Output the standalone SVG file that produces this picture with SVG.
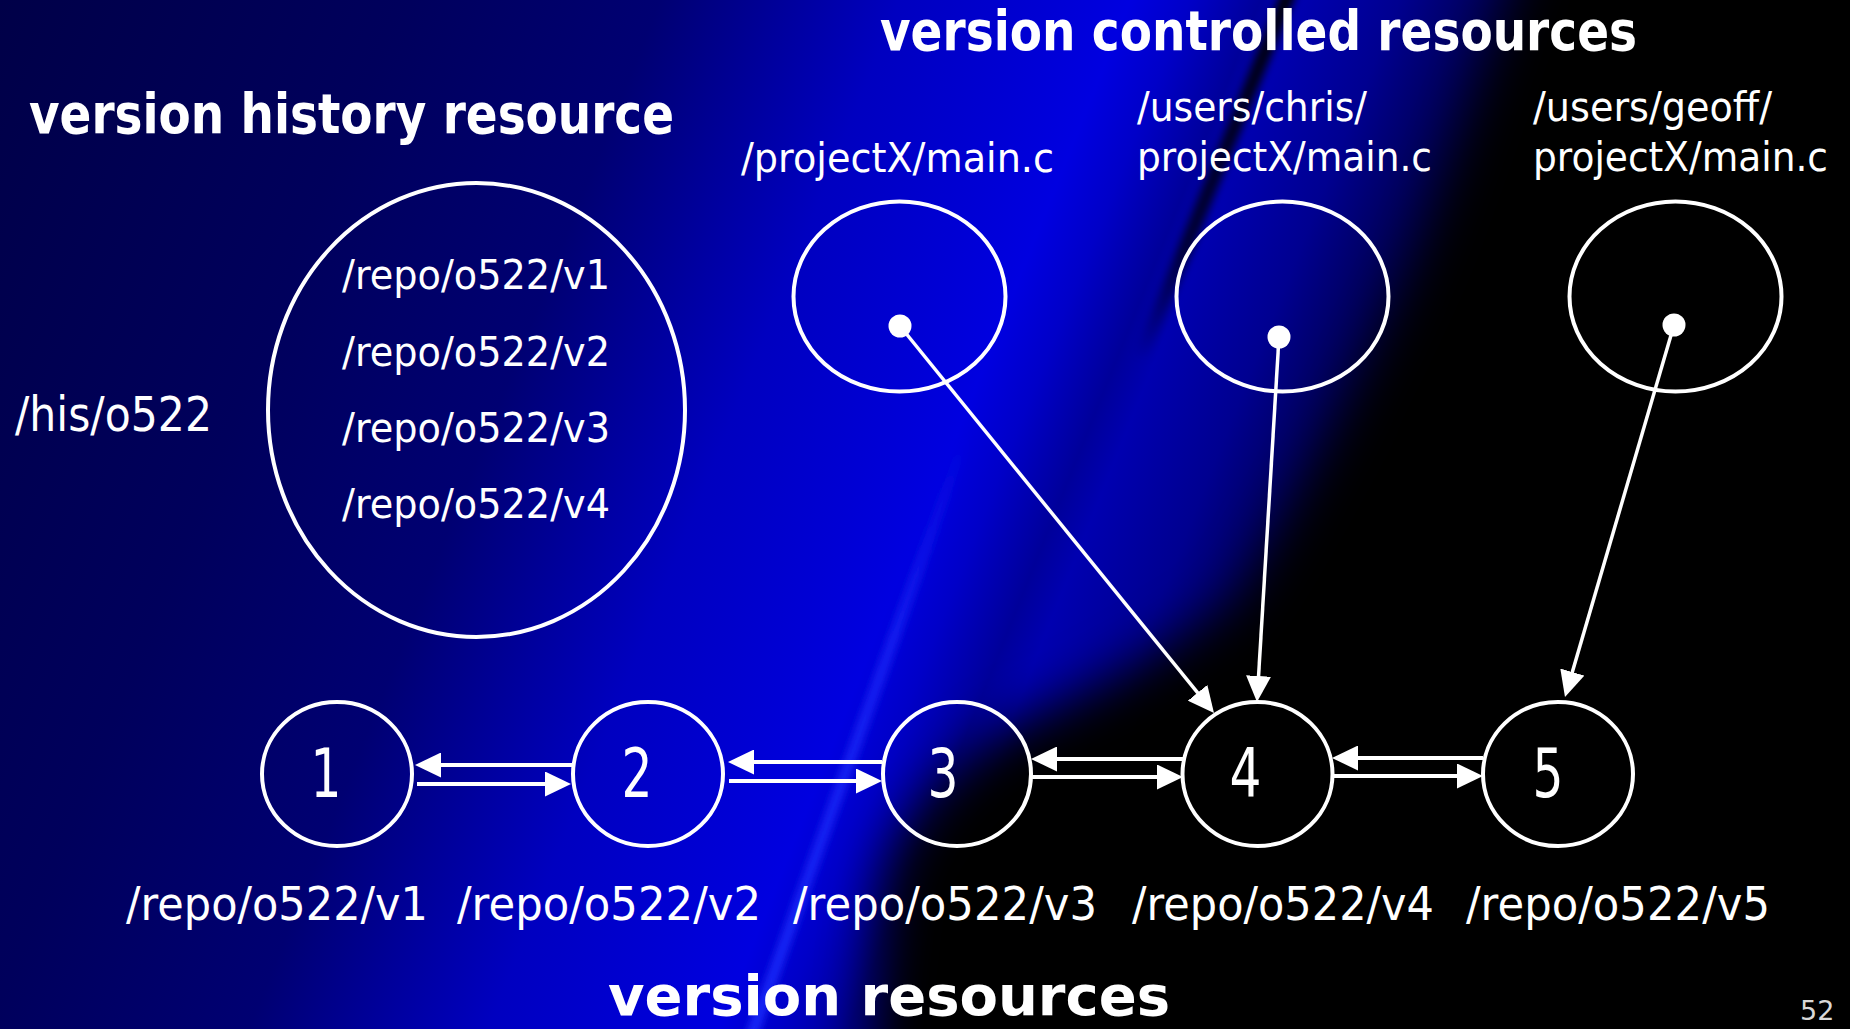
<svg xmlns="http://www.w3.org/2000/svg" width="1850" height="1029" viewBox="0 0 1850 1029">
  <defs>
    <style>
      .lbl { font-family: "DejaVu Sans", "Liberation Sans", sans-serif; fill: #ffffff; }
      .ttl { font-family: "DejaVu Sans Condensed", "DejaVu Sans", "Liberation Sans", sans-serif; font-weight: bold; fill: #ffffff; font-size: 55px; }
      .ring { fill: none; stroke: #ffffff; stroke-width: 4; }
      .num { font-size: 67px; }
      .path { font-size: 46px; }
      .small { font-size: 40px; }
      .link { stroke: #ffffff; fill: none; marker-end: url(#head); }
      .pair { stroke-width: 4; }
      .ref { stroke-width: 3.5; }
      .dot { fill: #ffffff; }
    </style>
    <!-- diagonal colour bands of the backdrop -->
    <linearGradient id="bands" gradientUnits="userSpaceOnUse" x1="0" y1="0" x2="1600" y2="640">
      <stop offset="0" stop-color="#000048"/>
      <stop offset="0.2155" stop-color="#00005c"/>
      <stop offset="0.3556" stop-color="#000072"/>
      <stop offset="0.431" stop-color="#0000a0"/>
      <stop offset="0.485" stop-color="#0000c0"/>
      <stop offset="0.566" stop-color="#0000d4"/>
      <stop offset="0.609" stop-color="#0000e0"/>
      <stop offset="0.641" stop-color="#0000c8"/>
      <stop offset="0.679" stop-color="#00009a"/>
      <stop offset="0.70" stop-color="#0000b0"/>
      <stop offset="0.754" stop-color="#000090"/>
      <stop offset="0.808" stop-color="#000050"/>
      <stop offset="0.873" stop-color="#000010"/>
      <stop offset="1" stop-color="#000000"/>
    </linearGradient>
    <linearGradient id="brightFade" gradientUnits="userSpaceOnUse" x1="961" y1="430" x2="743" y2="1029">
      <stop offset="0" stop-color="#2030ff" stop-opacity="0"/>
      <stop offset="0.35" stop-color="#2030ff" stop-opacity="0.7"/>
      <stop offset="1" stop-color="#2030ff" stop-opacity="0.95"/>
    </linearGradient>
    <linearGradient id="darkFade" gradientUnits="userSpaceOnUse" x1="1290" y1="-10" x2="1140" y2="360">
      <stop offset="0" stop-color="#000000" stop-opacity="0.95"/>
      <stop offset="0.7" stop-color="#000000" stop-opacity="0.7"/>
      <stop offset="1" stop-color="#000000" stop-opacity="0"/>
    </linearGradient>
    <filter id="haze" filterUnits="userSpaceOnUse" x="-200" y="-200" width="2300" height="1500">
      <feGaussianBlur stdDeviation="26"/>
    </filter>
    <filter id="streak" filterUnits="userSpaceOnUse" x="-100" y="-100" width="2100" height="1300">
      <feGaussianBlur stdDeviation="4"/>
    </filter>
    <marker id="head" markerUnits="userSpaceOnUse" markerWidth="26" markerHeight="25" refX="16" refY="12.5" orient="auto">
      <path d="M0,0 L26,12.5 L0,25 Z" fill="#ffffff"/>
    </marker>
  </defs>

  <!-- backdrop -->
  <g id="background">
    <rect x="0" y="0" width="1850" height="1029" fill="url(#bands)"/>
    <path d="M860,1100 L885,880 Q915,785 1010,728 Q1150,668 1240,600 Q1335,450 1425,250 L1550,-100 L1980,-100 L1980,1150 L860,1150 Z" fill="#000000" filter="url(#haze)"/>
    <line x1="968" y1="430" x2="750" y2="1040" stroke="url(#brightFade)" stroke-width="10" filter="url(#streak)"/>
    <line x1="1290" y1="-10" x2="1140" y2="360" stroke="url(#darkFade)" stroke-width="14" filter="url(#streak)"/>
  </g>

  <!-- headings -->
  <g id="titles">
    <text class="ttl" x="880" y="50" textLength="757" lengthAdjust="spacingAndGlyphs">version controlled resources</text>
    <text class="ttl" x="29" y="133" textLength="645" lengthAdjust="spacingAndGlyphs">version history resource</text>
    <text class="ttl" x="608" y="1015" textLength="562" lengthAdjust="spacingAndGlyphs">version resources</text>
  </g>

  <!-- version history resource -->
  <g id="history">
    <ellipse class="ring" cx="476.5" cy="410" rx="208.5" ry="227" stroke-width="3.5"/>
    <text class="lbl small" x="342" y="289" textLength="268" lengthAdjust="spacingAndGlyphs">/repo/o522/v1</text>
    <text class="lbl small" x="342" y="366" textLength="268" lengthAdjust="spacingAndGlyphs">/repo/o522/v2</text>
    <text class="lbl small" x="342" y="442" textLength="268" lengthAdjust="spacingAndGlyphs">/repo/o522/v3</text>
    <text class="lbl small" x="342" y="518" textLength="268" lengthAdjust="spacingAndGlyphs">/repo/o522/v4</text>
  </g>
  <g id="history-name">
    <text class="lbl" x="15" y="431" font-size="48" textLength="197" lengthAdjust="spacingAndGlyphs">/his/o522</text>
  </g>

  <!-- version controlled resources -->
  <g id="vcr-projectX">
    <ellipse class="ring" cx="899.5" cy="296.5" rx="106" ry="95"/>
    <circle class="dot" cx="900" cy="326" r="11.5"/>
    <text class="lbl small" x="741" y="172" textLength="313" lengthAdjust="spacingAndGlyphs">/projectX/main.c</text>
  </g>
  <g id="vcr-chris">
    <ellipse class="ring" cx="1282.5" cy="296.5" rx="106" ry="95"/>
    <circle class="dot" cx="1279" cy="337" r="11.5"/>
    <text class="lbl small" x="1137" y="121" textLength="230" lengthAdjust="spacingAndGlyphs">/users/chris/</text>
    <text class="lbl small" x="1137" y="171" textLength="295" lengthAdjust="spacingAndGlyphs">projectX/main.c</text>
  </g>
  <g id="vcr-geoff">
    <ellipse class="ring" cx="1675.5" cy="296.5" rx="106" ry="95"/>
    <circle class="dot" cx="1674" cy="325" r="11.5"/>
    <text class="lbl small" x="1533" y="121" textLength="239" lengthAdjust="spacingAndGlyphs">/users/geoff/</text>
    <text class="lbl small" x="1533" y="171" textLength="295" lengthAdjust="spacingAndGlyphs">projectX/main.c</text>
  </g>

  <!-- version resources -->
  <g id="v1">
    <ellipse class="ring" cx="337" cy="774" rx="75" ry="72"/>
    <text class="lbl num" x="310.5" y="797" textLength="31" lengthAdjust="spacingAndGlyphs">1</text>
    <text class="lbl path" x="126" y="920" textLength="302" lengthAdjust="spacingAndGlyphs">/repo/o522/v1</text>
  </g>
  <g id="v2">
    <ellipse class="ring" cx="648" cy="774" rx="75" ry="72"/>
    <text class="lbl num" x="621.5" y="797" textLength="31" lengthAdjust="spacingAndGlyphs">2</text>
    <text class="lbl path" x="457" y="920" textLength="304" lengthAdjust="spacingAndGlyphs">/repo/o522/v2</text>
  </g>
  <g id="v3">
    <ellipse class="ring" cx="957" cy="774" rx="74" ry="72"/>
    <text class="lbl num" x="927.5" y="797" textLength="31" lengthAdjust="spacingAndGlyphs">3</text>
    <text class="lbl path" x="793" y="920" textLength="304" lengthAdjust="spacingAndGlyphs">/repo/o522/v3</text>
  </g>
  <g id="v4">
    <ellipse class="ring" cx="1257.5" cy="774" rx="75" ry="72"/>
    <text class="lbl num" x="1229.5" y="797" textLength="32" lengthAdjust="spacingAndGlyphs">4</text>
    <text class="lbl path" x="1132" y="920" textLength="302" lengthAdjust="spacingAndGlyphs">/repo/o522/v4</text>
  </g>
  <g id="v5">
    <ellipse class="ring" cx="1558" cy="774" rx="75" ry="72"/>
    <text class="lbl num" x="1532.5" y="797" textLength="31" lengthAdjust="spacingAndGlyphs">5</text>
    <text class="lbl path" x="1466" y="920" textLength="304" lengthAdjust="spacingAndGlyphs">/repo/o522/v5</text>
  </g>

  <!-- connectors -->
  <g id="connectors">
    <line class="link pair" x1="572" y1="765" x2="425" y2="765"/>
    <line class="link pair" x1="417" y1="784" x2="561" y2="784"/>
    <line class="link pair" x1="882" y1="762" x2="738" y2="762"/>
    <line class="link pair" x1="729" y1="781" x2="872" y2="781"/>
    <line class="link pair" x1="1183" y1="759" x2="1041" y2="759"/>
    <line class="link pair" x1="1031" y1="777" x2="1173" y2="777"/>
    <line class="link pair" x1="1483" y1="758" x2="1342" y2="758"/>
    <line class="link pair" x1="1332" y1="776" x2="1473" y2="776"/>
    <line class="link ref" x1="900" y1="326" x2="1207.7" y2="705.2"/>
    <line class="link ref" x1="1279" y1="337" x2="1257.6" y2="692"/>
    <line class="link ref" x1="1674" y1="325" x2="1567.8" y2="687.4"/>
  </g>

  <!-- slide number -->
  <text class="lbl" x="1800" y="1020" font-size="27" style="fill:#d8d8d8">52</text>
</svg>
